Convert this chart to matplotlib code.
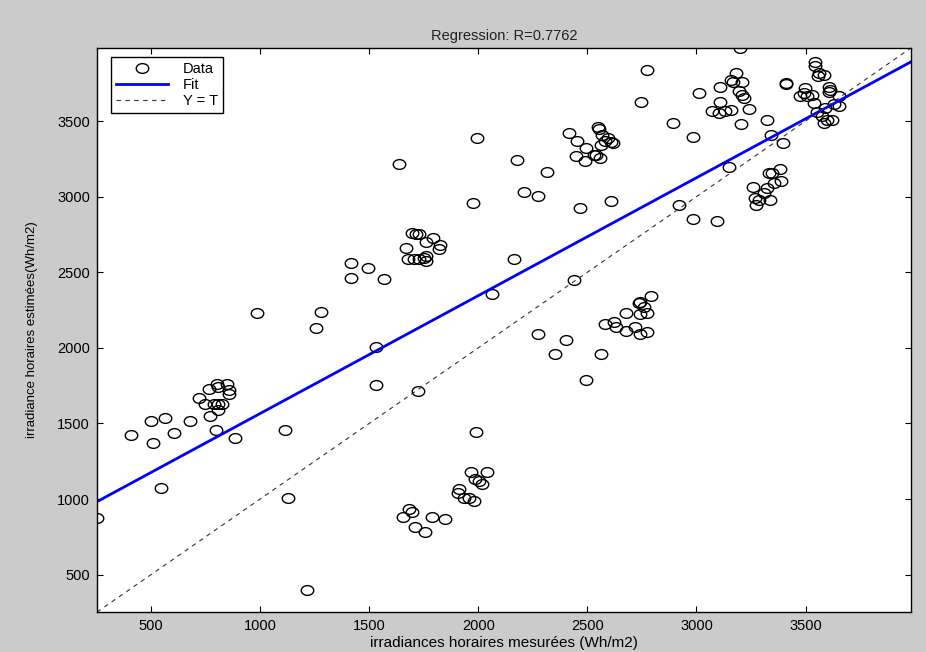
import numpy as np
import matplotlib
matplotlib.use("Agg")
import matplotlib.pyplot as plt
from matplotlib.path import Path

t_left = [253, 407, 499, 563, 511, 606, 679, 545, 797, 886, 769, 722, 766, 746, 804,
          807, 847, 858, 858, 789, 807, 827, 807, 1113, 1129, 986]
y_left = [876, 1422, 1513, 1537, 1369, 1436, 1513, 1071, 1460, 1402, 1550, 1670, 1728, 1628, 1761,
          1743, 1758, 1721, 1694, 1628, 1632, 1628, 1588, 1455, 1006, 2230]

t_mid_up = [1638, 1978, 1697, 1715, 1728, 1792, 1824, 1820, 1760, 1667, 1679, 1705, 1728,
            1759, 1759, 1751, 1418, 1494, 1418, 1568, 1280, 1256, 1532]
y_mid_up = [3218, 2959, 2758, 2756, 2751, 2725, 2683, 2657, 2697, 2659, 2590, 2590, 2590,
            2606, 2574, 2597, 2564, 2531, 2464, 2458, 2235, 2132, 2008]

t_mid_low = [1530, 1723, 1988, 1216, 1968, 2039, 1987, 2003, 2018, 1911, 1905, 1934, 1957,
             1980, 1682, 1697, 1656, 1786, 1846, 1708, 1754]
y_mid_low = [1754, 1714, 1446, 398, 1177, 1177, 1130, 1119, 1097, 1064, 1041, 1008, 1004,
             986, 933, 915, 880, 880, 869, 816, 783]

t_ctr_up = [2748, 1995, 2176, 2316, 2209, 2273, 2465, 2609, 2162, 2438, 2415, 2453, 2492,
            2450, 2488, 2530, 2540, 2560, 2549, 2552, 2568, 2583, 2606, 2617, 2563, 2594]
y_ctr_up = [3625, 3386, 3240, 3160, 3032, 3004, 2922, 2972, 2590, 2450, 3421, 3366, 3322,
            3267, 3236, 3274, 3274, 3256, 3461, 3444, 3410, 3370, 3360, 3353, 3342, 3387]

t_ctr_low = [2064, 2272, 2401, 2351, 2563, 2492, 2580, 2621, 2629, 2679, 2679, 2720, 2743,
             2774, 2743, 2774, 2736, 2743, 2759, 2791]
y_ctr_low = [2358, 2093, 2053, 1962, 1962, 1787, 2158, 2173, 2140, 2229, 2111, 2136, 2093,
             2108, 2225, 2232, 2296, 2302, 2269, 2340]

t_right = [3200, 2772, 3011, 3179, 3160, 3166, 3209, 3107, 3194, 3209, 3217, 3110, 3240,
           3072, 3102, 3130, 3160, 3204, 2894, 2984, 3409, 3412, 3323, 3341, 3397, 3151,
           2919, 2984, 3094, 3381, 3331, 3346, 3385, 3354, 3259, 3323, 3308, 3270, 3285,
           3336, 3273]
y_right = [3983, 3838, 3686, 3816, 3769, 3756, 3760, 3723, 3697, 3674, 3652, 3626, 3580,
           3563, 3553, 3563, 3574, 3482, 3488, 3395, 3749, 3745, 3508, 3408, 3353, 3198,
           2943, 2850, 2840, 3183, 3158, 3154, 3105, 3088, 3065, 3054, 3021, 2988, 2977,
           2977, 2944]

t_far = [3542, 3545, 3560, 3583, 3557, 3606, 3614, 3606, 3499, 3491, 3476, 3507, 3530,
         3537, 3652, 3629, 3652, 3591, 3552, 3575, 3598, 3621, 3583]
y_far = [3888, 3866, 3817, 3807, 3795, 3728, 3706, 3695, 3721, 3686, 3663, 3668, 3674,
         3620, 3668, 3613, 3597, 3586, 3557, 3530, 3508, 3508, 3486]

T = np.array(t_left + t_mid_up + t_mid_low + t_ctr_up + t_ctr_low + t_right + t_far, float)
Y = np.array(y_left + y_mid_up + y_mid_low + y_ctr_up + y_ctr_low + y_right + y_far, float)

r_text = "Regression: R=0.7762"
ticks = [500, 1000, 1500, 2000, 2500, 3000, 3500]

plt.rcParams['font.family'] = ['Liberation Sans', 'DejaVu Sans']

fig = plt.figure(figsize=(9.26, 6.52), dpi=100, facecolor='#cbcbcb')
ax = fig.add_axes([0.1048, 0.0613, 0.8790, 0.8651])

lim = [min(T.min(), Y.min()), max(T.max(), Y.max())]

# slightly flattened circle like the stretched screenshot
uc = Path.unit_circle()
ell = Path(uc.vertices * np.array([1.0, 0.78]), uc.codes)

m, b = np.polyfit(T, Y, 1)
xs = np.array(lim)

ax.plot(T, Y, linestyle='none', marker=ell, markersize=9, markerfacecolor='none',
        markeredgecolor='black', markeredgewidth=1.0, label='Data')
ax.plot(xs, m * xs + b, color='#0000ff', linewidth=2.0, label='Fit')
ax.plot(xs, xs, color='#333333', linestyle=(0, (4, 4)), linewidth=0.8, label='Y = T')

ax.set_xlim(lim)
ax.set_ylim(lim)
ax.set_xticks(ticks)
ax.set_yticks(ticks)
ax.tick_params(direction='in', top=True, right=True, length=4, labelsize=10.5,
               colors='black', pad=5)
for s in ax.spines.values():
    s.set_linewidth(1.0)

ax.set_xlabel('irradiances horaires mesurées (Wh/m2)', fontsize=11, labelpad=2)
ax.set_ylabel('irradiance horaires estimées(Wh/m2)', fontsize=9.5, labelpad=14)
ax.set_title(r_text, fontsize=10.5, color='#222222', pad=6)

leg = ax.legend(loc='upper left', fontsize=10.5, frameon=True, fancybox=False,
                edgecolor='black', framealpha=1, borderaxespad=0.6, handlelength=3.6,
                handletextpad=1.0, labelspacing=0.15, borderpad=0.35,
                bbox_to_anchor=(0.006, 1.0))
leg.get_frame().set_linewidth(1.0)

fig.savefig('out.png', dpi=100, facecolor=fig.get_facecolor())
